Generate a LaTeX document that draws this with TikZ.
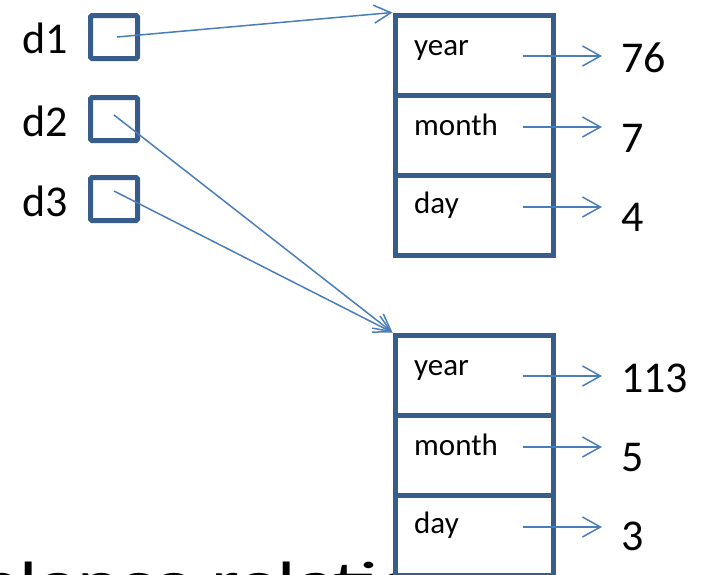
\documentclass[tikz,border=0pt]{standalone}
\usepackage{fontspec}
\setmainfont{Carlito}
\usetikzlibrary{arrows.meta}
\definecolor{boxblue}{RGB}{56,93,138}
\definecolor{arrblue}{RGB}{74,126,187}
\begin{document}
\begin{tikzpicture}[x=1pt,y=-1pt,
  ptrbox/.style={draw=boxblue,line width=5pt,rounded corners=1.5pt,minimum width=47pt,minimum height=43pt,inner sep=0pt,fill=white},
  rowbox/.style={draw=boxblue,line width=5pt,minimum width=158pt,minimum height=80pt,inner sep=0pt,fill=white},
  varlbl/.style={font=\fontsize{44}{50}\selectfont,anchor=base east,inner sep=0pt},
  fieldlbl/.style={font=\fontsize{31}{36}\selectfont,anchor=base west,inner sep=0pt},
  vallbl/.style={font=\fontsize{44}{50}\selectfont,anchor=base west,inner sep=0pt},
  bgtext/.style={font=\fontsize{54}{60}\selectfont,anchor=base west,inner sep=0pt},
  ptrarrow/.style={draw=arrblue,line width=1.5pt,-{Straight Barb[length=17pt,width=18pt,line width=1.5pt]}},
  fldarrow/.style={draw=arrblue,line width=1.5pt,-{Straight Barb[length=18pt,width=20pt,line width=1.5pt]}}
]
\useasboundingbox (0,0) rectangle (710,574);
\clip (0,0) rectangle (710,574);

% background text, partly hidden
\node[bgtext] (bg) at (-19,599) {\scalebox{1.48}[1]{alence relation}};

% variables
\node[varlbl] (l1) at (68,53) {d1};
\node[varlbl] (l2) at (68,136) {d2};
\node[varlbl] (l3) at (68,216) {d3};
\node[ptrbox] (p1) at (114,37) {};
\node[ptrbox] (p2) at (114,119) {};
\node[ptrbox] (p3) at (114,199) {};

% record 1
\node[rowbox] (a1) at (474,55) {};
\node[rowbox] (a2) at (474,135) {};
\node[rowbox] (a3) at (474,215) {};
% record 2
\node[rowbox] (b1) at (474,375) {};
\node[rowbox] (b2) at (474,455) {};
\node[rowbox] (b3) at (474,535) {};

% field labels
\node[fieldlbl] (fa1) at (414,55) {year};
\node[fieldlbl] (fa2) at (414,135) {month};
\node[fieldlbl] (fa3) at (414,213) {day};
\node[fieldlbl] (fb1) at (414,375) {year};
\node[fieldlbl] (fb2) at (414,455) {month};
\node[fieldlbl] (fb3) at (414,533) {day};

% values
\node[vallbl] (va1) at (621,72) {76};
\node[vallbl] (va2) at (621,152) {7};
\node[vallbl] (va3) at (621,231) {4};
\node[vallbl] (vb1) at (621,392) {113};
\node[vallbl] (vb2) at (621,471) {5};
\node[vallbl] (vb3) at (621,550) {3};

% pointer starts
\coordinate (s1) at (117,37);
\coordinate (s2) at (114,115);
\coordinate (s3) at (114,191);
\draw[ptrarrow] (s1) -- (a1.north west);
\draw[ptrarrow] (s2) -- (b1.north west);
\draw[ptrarrow] (s3) -- (b1.north west);

% field arrows
\coordinate (ea1) at (523,56);  \coordinate (ta1) at (602,56);
\coordinate (ea2) at (523,127); \coordinate (ta2) at (602,127);
\coordinate (ea3) at (523,207); \coordinate (ta3) at (602,207);
\coordinate (eb1) at (523,376); \coordinate (tb1) at (602,376);
\coordinate (eb2) at (523,447); \coordinate (tb2) at (602,447);
\coordinate (eb3) at (523,527); \coordinate (tb3) at (602,527);
\draw[fldarrow] (ea1) -- (ta1);
\draw[fldarrow] (ea2) -- (ta2);
\draw[fldarrow] (ea3) -- (ta3);
\draw[fldarrow] (eb1) -- (tb1);
\draw[fldarrow] (eb2) -- (tb2);
\draw[fldarrow] (eb3) -- (tb3);
\end{tikzpicture}
\end{document}
